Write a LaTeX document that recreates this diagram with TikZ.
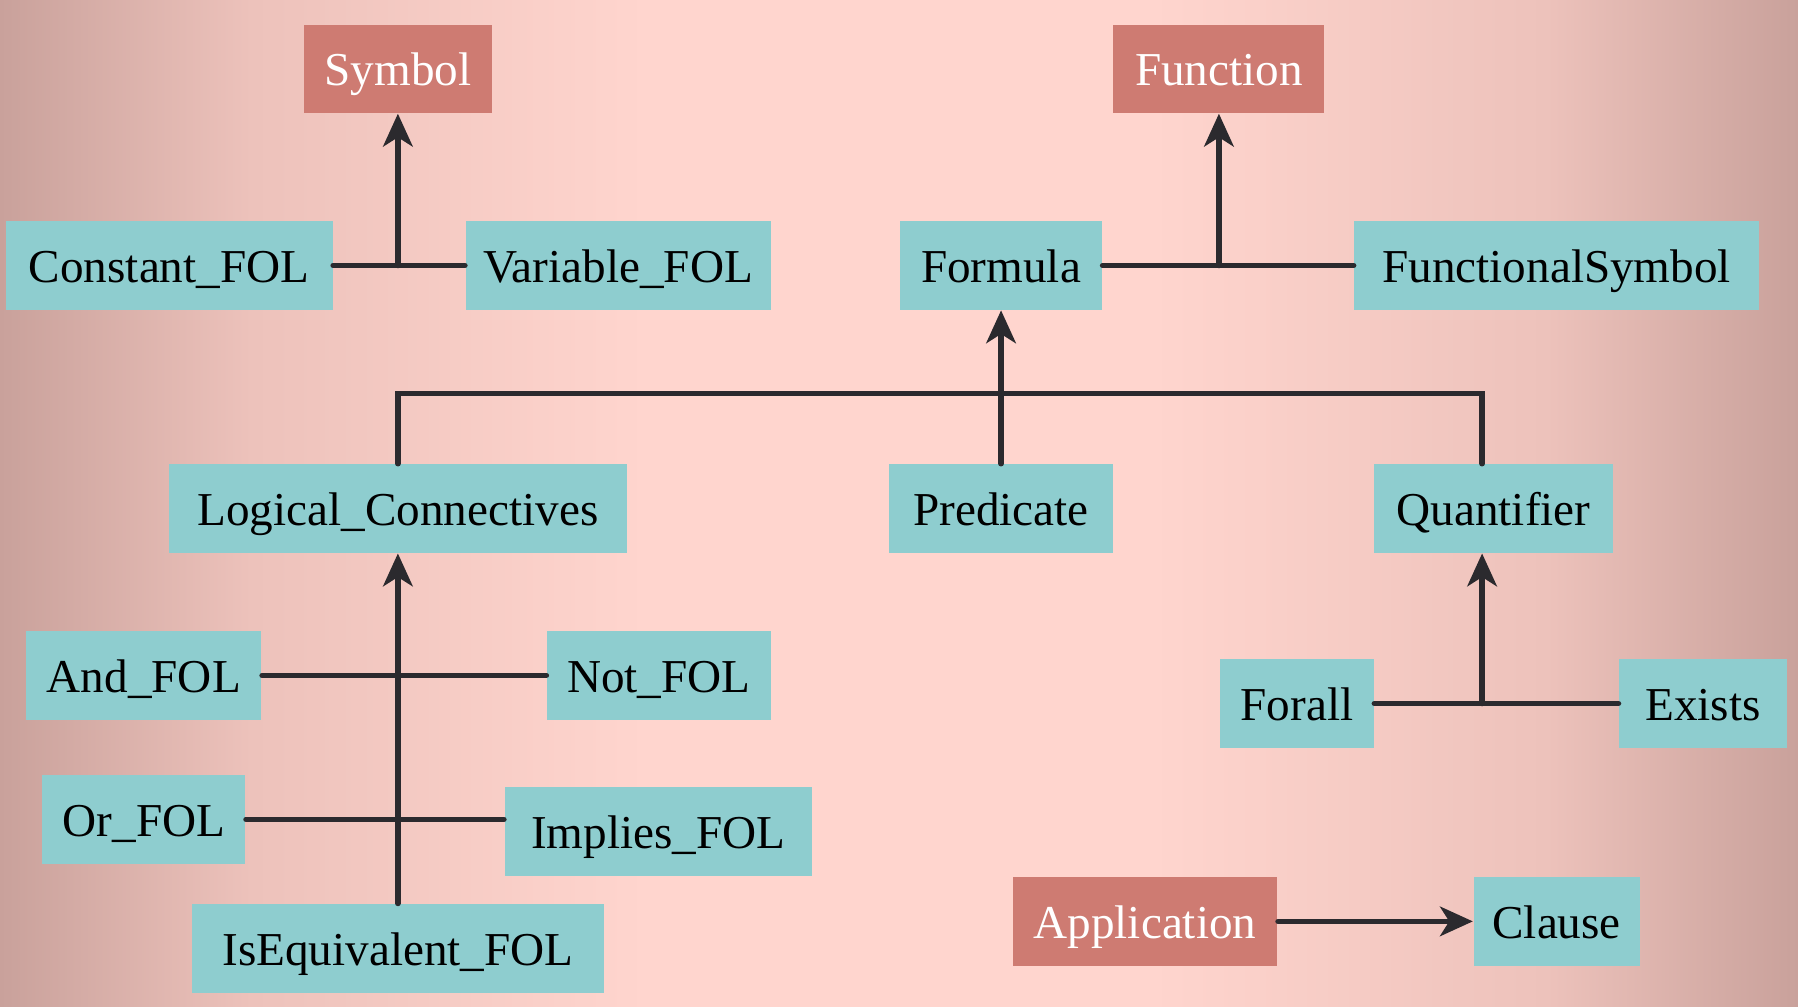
\documentclass[tikz,border=0pt]{standalone}
\usepackage{fontspec}
\setmainfont{Liberation Serif}
\usetikzlibrary{arrows.meta}

\definecolor{boxteal}{HTML}{8ECDCF}
\definecolor{boxred}{HTML}{CE7B72}
\definecolor{linedark}{HTML}{2B2A2E}
\definecolor{bgcenter}{HTML}{FFD5CE}
\definecolor{bgmid}{HTML}{EDC2BB}
\definecolor{bgedge}{HTML}{C9A19B}
% TikZ maps the path onto 25bp--75bp of the shading
\pgfdeclarehorizontalshading{bgshade}{100bp}{color(0bp)=(bgedge); color(25bp)=(bgedge); color(32bp)=(bgmid); color(43bp)=(bgcenter); color(57bp)=(bgcenter); color(68bp)=(bgmid); color(75bp)=(bgedge); color(100bp)=(bgedge)}

\tikzset{
  cls/.style={fill=boxteal, text=black, minimum height=27pt, inner sep=0pt, text height=12.2pt, text depth=2pt, font=\fontsize{14.4}{17}\selectfont},
  root/.style={cls, fill=boxred, text=white},
  link/.style={draw=linedark, line width=1.7pt, line cap=round},
  isa/.style={link, -{Stealth[length=10pt, width=9pt, inset=2.8pt]}}
}

\begin{document}
\begin{tikzpicture}[x=0.35pt, y=-0.35pt]
\useasboundingbox (0,0) rectangle (1568,878);
\shade[shading=bgshade] (0,0) rectangle (1568,878);

% top row
\node[root, minimum width=57.4pt] (symbol) at (347,60) {Symbol};
\node[root, minimum width=64.4pt] (function) at (1063,60) {Function};

% second row
\node[cls, minimum width=99.75pt] (cfol) at (147.5,231.5) {Constant\_FOL};
\node[cls, minimum width=93.1pt] (vfol) at (539,231.5) {Variable\_FOL};
\node[cls, minimum width=61.6pt] (formula) at (873,231.5) {Formula};
\node[cls, minimum width=123.55pt] (fsym) at (1357.5,231.5) {FunctionalSymbol};

% third row
\node[cls, minimum width=140pt] (lc) at (347,443.5) {Logical\_Connectives};
\node[cls, minimum width=68.6pt] (predicate) at (873,443.5) {Predicate};
\node[cls, minimum width=73.15pt] (quantifier) at (1302.5,443.5) {Quantifier};

% connectives
\node[cls, minimum width=71.75pt] (andf) at (125.5,589) {And\_FOL};
\node[cls, minimum width=68.25pt] (notf) at (574.5,589) {Not\_FOL};
\node[cls, minimum width=61.95pt] (orf) at (125.5,714.5) {Or\_FOL};
\node[cls, minimum width=93.8pt] (impf) at (574,725) {Implies\_FOL};
\node[cls, minimum width=126pt] (iseq) at (347,827) {IsEquivalent\_FOL};

% quantifiers
\node[cls, minimum width=46.9pt] (forall) at (1131,613.5) {Forall};
\node[cls, minimum width=51.1pt] (exists) at (1485,613.5) {Exists};

% application
\node[root, minimum width=80.85pt] (app) at (998.5,803.5) {Application};
\node[cls, minimum width=50.75pt] (clause) at (1357.5,803.5) {Clause};

% connectors
\draw[link] (cfol.east) -- (vfol.west);
\draw[isa] (symbol.south |- cfol.east) -- (symbol.south);
\draw[link] (formula.east) -- (fsym.west);
\draw[isa] (function.south |- formula.east) -- (function.south);

\coordinate (bus) at (873,343);
\coordinate (qaxis) at ([xshift=-3.5pt]quantifier.north);
\draw[link] (lc.north) -- (lc.north |- bus) -| (qaxis);
\draw[isa] (predicate.north) -- (formula.south);

\draw[isa] (iseq.north) -- (lc.south);
\draw[link] (andf.east) -- (notf.west);
\draw[link] (orf.east) -- (orf.east -| impf.west);

\draw[link] (forall.east) -- (exists.west);
\draw[isa] (qaxis |- forall.east) -- (qaxis |- quantifier.south);

\draw[isa] (app.east) -- (clause.west);
\end{tikzpicture}
\end{document}
